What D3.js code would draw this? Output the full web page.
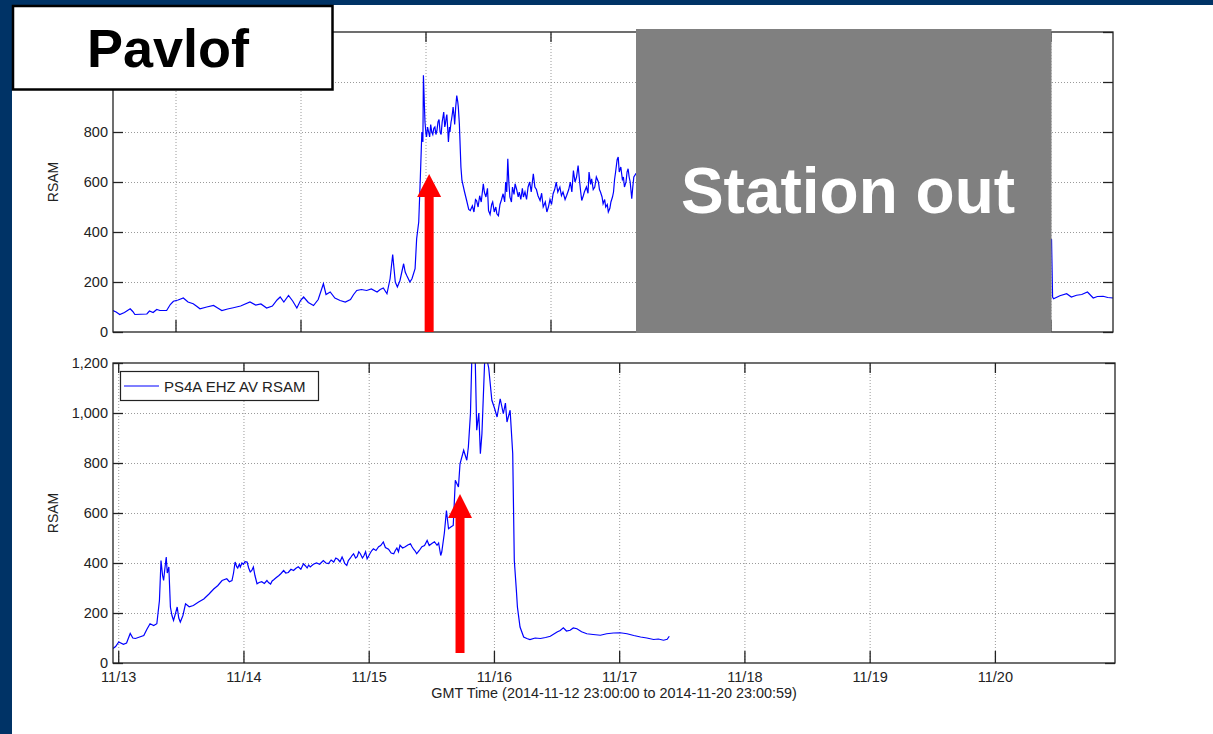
<!DOCTYPE html>
<html>
<head>
<meta charset="utf-8">
<script src="https://cdnjs.cloudflare.com/ajax/libs/d3/7.8.5/d3.min.js"></script>
<style>
  body { margin: 0; background: #fff; }
  text { font-family: "Liberation Sans", Arial, sans-serif; }
  .grid line { stroke: #9a9a9a; stroke-dasharray: 1,2; }
  .grid path { display: none; }
  .ax path { display: none; }
  .ax line { stroke: #222; stroke-width: 1.3; }
  .ax text { fill: #222; font-size: 14.5px; }
</style>
</head>
<body>
<script>
// top panel: hours after 2014-11-12 12:00 GMT
const topHours = [0, 0.6, 1.3, 2.2, 3.3, 3.8, 4.2, 5.3, 6.5, 7, 7.7, 8.4, 9, 10.3, 11, 11.6, 12.5, 13.5, 14.4, 15.4,
  16, 16.7, 18, 19.3, 20.1, 20.9, 22, 23.1, 24.5, 26.3, 27.4, 28.4, 29.5, 30.6, 31.5, 32.1, 32.8, 33.7, 34.5, 35.3,
  36, 36.6, 37.5, 38.5, 39.4, 40.4, 40.9, 41.7, 42.6, 43.6, 44.6, 45.6, 46.2, 46.8, 47.7, 48.7, 49.6, 50.7, 51.3, 51.9,
  52.6, 53.2, 53.7, 54.2, 54.6, 55.1, 55.8, 56.1, 56.4, 57, 57.4, 58, 58.3, 58.7, 59, 59.3, 59.5, 59.6, 59.8, 59.9,
  60.1, 60.2, 60.4, 60.6, 60.8, 61, 61.2, 61.4, 61.6, 61.8, 62, 62.2, 62.4, 62.6, 62.8, 63, 63.2, 63.5, 63.7, 63.8,
  64, 64.1, 64.3, 64.4, 64.6, 64.7, 64.9, 65, 65.2, 65.3, 65.5, 65.6, 65.8, 66, 66.2, 66.3, 66.5, 66.8, 67, 67.5,
  67.9, 68.3, 68.6, 69, 69.3, 69.6, 69.8, 70.1, 70.4, 70.7, 71.1, 71.3, 71.6, 71.9, 72.1, 72.4, 72.7, 72.9, 73.2, 73.5,
  73.7, 74, 74.3, 74.6, 74.9, 75.2, 75.4, 75.6, 75.8, 76, 76.2, 76.5, 76.7, 77, 77.2, 77.5, 77.8, 78, 78.3, 78.6,
  78.8, 79.1, 79.4, 79.7, 80, 80.3, 80.7, 81, 81.3, 81.6, 82, 82.3, 82.6, 83, 83.3, 83.6, 83.9, 84.2, 84.5, 84.8,
  85.1, 85.4, 85.8, 86.1, 86.4, 86.8, 87.1, 87.5, 87.8, 88.1, 88.4, 88.7, 89, 89.3, 89.6, 89.8, 90, 90.3, 90.5, 90.9,
  91.2, 91.4, 91.7, 91.9, 92.2, 92.5, 92.8, 93.2, 93.4, 93.6, 93.9, 94.1, 94.4, 94.6, 94.9, 95.1, 95.4, 95.6, 95.9, 96.1,
  96.3, 96.5, 96.8, 97, 97.2, 97.5, 97.8, 98, 98.2, 98.5, 98.7, 98.9, 99.1, 99.3, 99.6, 99.8, 100, 100.4,
  110, 125, 140, 155, 170, 180.2, 180.4, 180.6, 181.8, 183.1, 184, 185, 186, 187.1, 188.2, 189, 190.1, 191, 192];
const topRsam = [86, 80, 70, 78, 93, 82, 70, 71, 72, 84, 78, 90, 86, 86, 110, 123, 128, 136, 120, 113,
  104, 93, 100, 106, 96, 86, 92, 97, 104, 120, 108, 112, 96, 104, 128, 140, 120, 146, 124, 96,
  126, 140, 118, 106, 130, 193, 150, 160, 136, 126, 120, 130, 150, 166, 170, 166, 172, 160, 170, 176,
  153, 213, 310, 200, 180, 206, 273, 240, 226, 200, 213, 253, 373, 440, 613, 800, 760, 1027, 900, 840,
  790, 780, 820, 800, 780, 830, 800, 790, 815, 820, 790, 806, 840, 850, 800, 790, 840, 880, 820, 830,
  860, 870, 800, 760, 820, 800, 840, 850, 880, 900, 860, 830, 900, 946, 920, 900, 833, 660, 606, 560,
  526, 490, 486, 505, 480, 530, 526, 500, 545, 520, 593, 560, 540, 575, 486, 470, 510, 520, 480, 500,
  473, 465, 510, 530, 553, 520, 600, 560, 693, 600, 540, 520, 580, 550, 593, 570, 540, 560, 530, 575,
  540, 560, 530, 580, 600, 560, 633, 580, 570, 545, 526, 555, 500, 520, 480, 500, 530, 510, 553, 570,
  600, 560, 580, 545, 560, 530, 546, 570, 600, 560, 646, 600, 620, 666, 600, 560, 526, 545, 560, 580,
  555, 640, 590, 613, 570, 580, 620, 600, 570, 560, 540, 513, 530, 500, 510, 480, 495, 520, 540, 560,
  610, 640, 690, 700, 640, 660, 610, 620, 580, 600, 640, 653, 620, 600, 533, 580, 620, 633,
  590, 560, 600, 540, 480, 370, 140, 133, 145, 153, 140, 147, 150, 160, 136, 142, 143, 138, 136];

// bottom panel: hours after 2014-11-12 23:00 GMT
const bottomHours = [0, 0.5, 1.1, 2, 2.6, 3.3, 3.8, 4.3, 5.1, 5.9, 6.5, 7.1, 7.8, 8.4, 8.9, 9.2, 9.5, 9.7, 9.9, 10.2,
  10.4, 10.7, 11, 11.3, 11.6, 12, 12.3, 12.6, 12.9, 13.4, 13.9, 14.6, 15.4, 16.4, 17.4, 18.4, 19.3, 20.1, 20.9, 21.8,
  22.3, 22.8, 23.1, 23.4, 23.7, 23.9, 24.2, 24.4, 24.7, 25, 25.3, 25.7, 26, 26.3, 26.6, 26.9, 27.2, 27.6, 28, 28.5,
  29, 29.5, 29.8, 30.2, 30.5, 30.8, 31.3, 31.8, 32.2, 32.7, 33.1, 33.6, 34.1, 34.6, 35, 35.5, 36, 36.5, 36.9, 37.2,
  37.5, 37.8, 38.4, 39, 39.6, 40.3, 40.8, 41.3, 41.8, 42.3, 42.7, 43.1, 43.5, 43.9, 44.2, 44.4, 44.8, 45.1, 45.5, 45.8,
  46.1, 46.5, 46.8, 47.1, 47.4, 47.8, 48.1, 48.4, 48.7, 49, 49.3, 49.6, 49.9, 50.4, 50.9, 51.3, 51.8, 52.2, 52.8, 53.3,
  53.8, 54.1, 54.4, 54.7, 55, 55.5, 56, 56.5, 57, 57.3, 57.6, 57.9, 58.2, 58.7, 59.2, 59.7, 60.2, 60.6, 61.1, 61.6,
  62.1, 62.4, 62.6, 62.8, 63, 63.5, 63.9, 64.3, 64.8, 65.2, 65.6,
  66.2, 66.5, 67.2, 67.8, 68.1, 68.5, 68.8, 69.1, 69.4, 69.7, 70.1, 70.4, 70.7, 71.3, 72, 72.6, 73.1, 73.6, 74.2, 74.8,
  75.2, 75.5, 76.1, 76.6, 76.9, 77.3, 77.5, 78, 78.7, 79.3, 79.9, 80.9, 81.9, 82.9, 83.8, 85.1, 85.7, 86.3, 86.9, 87.6,
  88.2, 88.9, 89.8, 90.8, 92, 93.4, 94.6, 95.9, 97.2, 98.5, 99.8, 101.1, 102.3, 103.6, 104.5, 105.5, 106.2, 106.6];
const bottomRsam = [58, 66, 84, 75, 80, 118, 100, 98, 104, 110, 135, 157, 150, 157, 250, 410, 350, 330, 370, 424,
  360, 384, 224, 190, 170, 200, 224, 180, 164, 190, 237, 225, 230, 244, 256, 276, 296, 310, 330, 337,
  325, 330, 360, 404, 385, 380, 395, 384, 400, 395, 405, 404, 380, 364, 370, 384, 350, 317, 322, 325,
  318, 330, 322, 316, 328, 333, 342, 350, 358, 370, 360, 362, 375, 370, 378, 385, 375, 397, 388, 380,
  392, 384, 395, 400, 395, 410, 400, 398, 412, 404, 420, 415, 405, 424, 410, 398, 390, 410, 420, 430,
  437, 420, 425, 445, 437, 420, 430, 445, 417, 428, 440, 450, 457, 450, 465, 470, 484, 462, 455, 440,
  437, 450, 460, 445, 471, 460, 465, 472, 477, 465, 455, 448, 437, 450, 465, 470, 490, 470, 478, 485,
  471, 480, 455, 430, 444, 520, 610, 537, 545, 550, 731,
  704, 797, 851, 811, 864, 997, 1250, 1200, 1230, 931, 1000, 837, 917, 1250, 1180, 1051, 1020, 984, 1057, 997,
  1040, 964, 1011, 837, 411, 291, 224, 144, 104, 98, 94, 100, 98, 102, 107, 124, 130, 141, 128, 131,
  140, 137, 125, 117, 114, 111, 117, 120, 121, 117, 110, 104, 100, 94, 96, 91, 95, 107];

const yTicks = [0, 200, 400, 600, 800, 1000, 1200];
const legendLabel = 'PS4A EHZ AV RSAM';
const xLabel = 'GMT Time (2014-11-12 23:00:00 to 2014-11-20 23:00:59)';

// red arrows: panel, hour of shaft, value at head tip, value at head base, value at shaft foot
const arrows = [
  { panel: 0, hour: 60.7, tip: 632, base: 540, foot: 0 },
  { panel: 1, hour: 66.5, tip: 676, base: 580, foot: 40 }
];

const svg = d3.select('body').append('svg').attr('width', 1213).attr('height', 734);
svg.append('rect').attr('width', 1213).attr('height', 734).attr('fill', '#fff');
svg.append('rect').attr('width', 12).attr('height', 734).attr('fill', '#003366');
svg.append('rect').attr('width', 1213).attr('height', 5).attr('fill', '#003366');

const panels = [
  { start: Date.UTC(2014, 10, 12, 12), end: Date.UTC(2014, 10, 20, 12), top: 32, bottom: 332, right: 1113,
    hours: topHours, rsam: topRsam, labels: false, maxLabel: 800 },
  { start: Date.UTC(2014, 10, 12, 23), end: Date.UTC(2014, 10, 20, 23, 0, 59), top: 363, bottom: 663, right: 1115,
    hours: bottomHours, rsam: bottomRsam, labels: true, maxLabel: 1200 }
];
const left = 113;

panels.forEach(function (p, i) {
  const x = d3.scaleUtc().domain([p.start, p.end]).range([left, p.right]);
  const y = d3.scaleLinear().domain([0, 1200]).range([p.bottom, p.top]);
  const h = p.bottom - p.top;
  const w = p.right - left;
  const toDate = function (hr) { return new Date(p.start + hr * 3600e3); };
  const days = d3.utcDay.range(new Date(p.start), new Date(p.end));

  // grid
  svg.append('g').attr('class', 'grid')
    .attr('transform', 'translate(0,' + p.bottom + ')')
    .call(d3.axisBottom(x).tickValues(days).tickSize(-h).tickFormat(''));
  svg.append('g').attr('class', 'grid')
    .attr('transform', 'translate(' + left + ',0)')
    .call(d3.axisLeft(y).tickValues(yTicks.slice(1, -1)).tickSize(-w).tickFormat(''));

  // series
  const clipId = 'clip' + i;
  svg.append('clipPath').attr('id', clipId).append('rect')
    .attr('x', left).attr('y', p.top).attr('width', w).attr('height', h);
  const line = d3.line()
    .x(function (d) { return x(toDate(d[0])); })
    .y(function (d) { return y(d[1]); });
  svg.append('path')
    .datum(d3.zip(p.hours, p.rsam))
    .attr('clip-path', 'url(#' + clipId + ')')
    .attr('fill', 'none')
    .attr('stroke', '#0000ff')
    .attr('stroke-width', 1.2)
    .attr('d', line);

  // axes with inward ticks on all four sides
  const fmt = d3.format(',');
  svg.append('g').attr('class', 'ax')
    .attr('transform', 'translate(0,' + p.bottom + ')')
    .call(d3.axisBottom(x).tickValues(days).tickSizeInner(-12).tickSizeOuter(0).tickPadding(9)
      .tickFormat(p.labels ? d3.utcFormat('%m/%d') : ''));
  svg.append('g').attr('class', 'ax')
    .attr('transform', 'translate(0,' + p.top + ')')
    .call(d3.axisTop(x).tickValues(days).tickSizeInner(-10).tickSizeOuter(0).tickFormat(''));
  const yAx = svg.append('g').attr('class', 'ax')
    .attr('transform', 'translate(' + left + ',0)')
    .call(d3.axisLeft(y).tickValues(yTicks).tickSizeInner(-10).tickSizeOuter(0).tickPadding(5)
      .tickFormat(function (d) { return d <= p.maxLabel ? fmt(d) : ''; }));
  yAx.selectAll('text').attr('dy', '0.3em');
  svg.append('g').attr('class', 'ax')
    .attr('transform', 'translate(' + p.right + ',0)')
    .call(d3.axisRight(y).tickValues(yTicks).tickSizeInner(-10).tickSizeOuter(0).tickFormat(''));

  svg.append('rect')
    .attr('x', left).attr('y', p.top).attr('width', w).attr('height', h)
    .attr('fill', 'none').attr('stroke', '#222').attr('stroke-width', 1.3);

  svg.append('text')
    .attr('transform', 'translate(58,' + (p.top + h / 2) + ') rotate(-90)')
    .attr('text-anchor', 'middle')
    .attr('font-size', 14)
    .attr('fill', '#222')
    .text('RSAM');

  arrows.filter(function (a) { return a.panel === i; }).forEach(function (a) {
    const cx = x(toDate(a.hour));
    const tipY = y(a.tip), baseY = y(a.base), footY = y(a.foot);
    svg.append('rect')
      .attr('x', cx - 4.5).attr('y', baseY - 1).attr('width', 9).attr('height', footY - baseY + 1)
      .attr('fill', '#ff0000');
    svg.append('path')
      .attr('d', 'M' + (cx - 12) + ',' + baseY + 'L' + cx + ',' + tipY + 'L' + (cx + 12) + ',' + baseY + 'Z')
      .attr('fill', '#ff0000');
  });

  if (p.labels) {
    svg.append('text')
      .attr('x', 614).attr('y', 698)
      .attr('text-anchor', 'middle')
      .attr('font-size', 14.4)
      .attr('fill', '#222')
      .text(xLabel);

    const lg = svg.append('g');
    lg.append('rect').attr('x', 120.5).attr('y', 371.5).attr('width', 198).attr('height', 29)
      .attr('fill', '#fff').attr('stroke', '#222').attr('stroke-width', 1.2);
    lg.append('line').attr('x1', 124).attr('x2', 159).attr('y1', 386).attr('y2', 386)
      .attr('stroke', '#0000ff').attr('stroke-width', 1.2);
    lg.append('text').attr('x', 164).attr('y', 391.5)
      .attr('font-size', 15).attr('fill', '#222')
      .text(legendLabel);
  }
});

// overlays
svg.append('rect').attr('x', 636).attr('y', 29).attr('width', 415.5).attr('height', 304)
  .attr('fill', '#808080');
svg.append('text').attr('x', 848).attr('y', 213)
  .attr('text-anchor', 'middle')
  .attr('font-size', 64).attr('font-weight', 'bold').attr('fill', '#fff')
  .text('Station out');

svg.append('rect').attr('x', 13).attr('y', 6).attr('width', 319.5).attr('height', 83.5)
  .attr('fill', '#fff').attr('stroke', '#000').attr('stroke-width', 2.5);
svg.append('text').attr('x', 168).attr('y', 67)
  .attr('text-anchor', 'middle')
  .attr('font-size', 54).attr('font-weight', 'bold').attr('fill', '#000')
  .text('Pavlof');
</script>
</body>
</html>
